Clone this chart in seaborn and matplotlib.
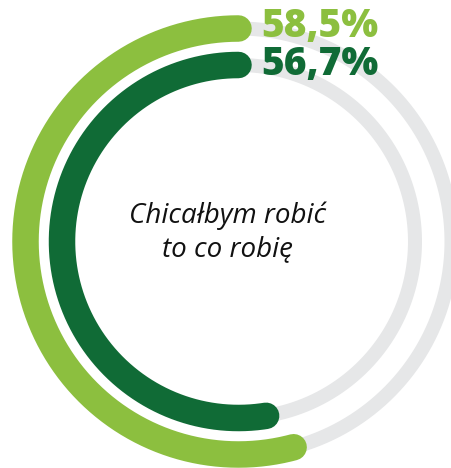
import numpy as np
import pandas as pd
import matplotlib
matplotlib.use("Agg")
import matplotlib.pyplot as plt
import seaborn as sns

# ----------- DONNÉES -------------
series = ["outer", "inner"]
values = [58.5, 56.7]                # en %
labels = ["58,5%", "56,7%"]
colors = ["#8cbf3f", "#106b36"]
track_color = "#e6e7e8"
center_text = "Chicałbym robić\nto co robię"
full_turn = 108.0                     # valeur correspondant à un tour complet

radii = [213, 176.5]                  # rayon (en px) des anneaux

sns.set_theme(style="white")
plt.rcParams["font.family"] = ["Open Sans", "DejaVu Sans"]

W, H, DPI = 452, 468, 100
fig = plt.figure(figsize=(W / DPI, H / DPI), dpi=DPI)

# axe polaire centré sur le centre du cercle, 1 unité = 1 px
cx, cy, half = 238.5, 241.5, 250
ax = fig.add_axes([(cx - half) / W, (H - cy - half) / H, 2 * half / W, 2 * half / H],
                  projection="polar")
ax.set_theta_zero_location("N")
ax.set_theta_direction(1)
ax.set_ylim(0, half)
ax.axis("off")

px = 72 / DPI  # px -> points

# pistes grises
for r in radii:
    th = np.linspace(0, 2 * np.pi, 400)
    ax.plot(th, np.full_like(th, r), color=track_color, lw=14 * px, zorder=1)

# arcs colorés
for name, v, r, c in zip(series, values, radii, colors):
    th = np.linspace(0, v / full_turn * 2 * np.pi, 300)
    df = pd.DataFrame({"theta": th, "r": np.full_like(th, r)})
    sns.lineplot(data=df, x="theta", y="r", ax=ax, color=c, lw=26.5 * px,
                 solid_capstyle="round", legend=False, sort=False, zorder=2)
ax.set_ylim(0, half)
ax.axis("off")

# étiquettes des pourcentages
for lab, c, y in zip(labels, colors, [27, 65]):
    fig.text(261 / W, 1 - y / H, lab, color=c, fontsize=28, fontweight=800,
             ha="left", va="center")

# texte central
fig.text(228 / W, 1 - 232 / H, center_text, fontsize=20, style="italic",
         ha="center", va="center", linespacing=1.25, color="#111111")

fig.savefig("out.png", dpi=DPI)
